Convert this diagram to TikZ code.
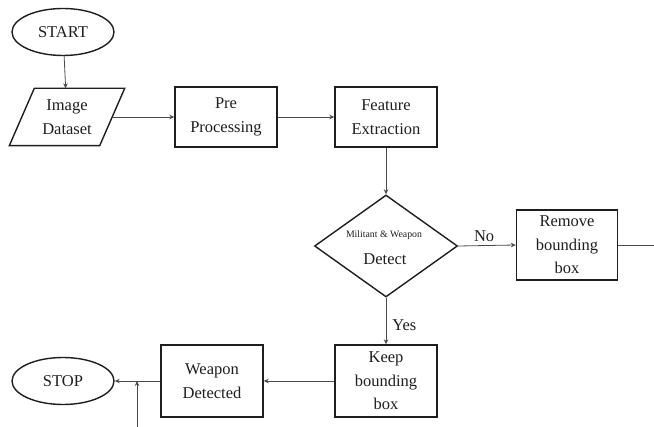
\documentclass[tikz,border=0pt]{standalone}
\usepackage{fontspec}
\setmainfont{Liberation Serif}
\usetikzlibrary{shapes.geometric,arrows.meta,calc}
\definecolor{ink}{HTML}{1E1E1E}
\definecolor{wire}{HTML}{4A4A4A}
\tikzset{
  base/.style={draw=ink, line width=1.4pt, align=center, text=ink,
    font=\fontsize{16.5}{23.5}\selectfont, inner sep=1pt},
  procbox/.style={base, rectangle, minimum width=102pt, minimum height=60pt},
  tallbox/.style={base, rectangle, minimum width=102pt, minimum height=72pt},
  term/.style={base, ellipse, minimum width=102pt, minimum height=47pt},
  decision/.style={base, diamond, minimum width=143pt, minimum height=102pt},
  conn/.style={draw=wire, line width=0.8pt, -{Stealth[length=5pt,width=4.5pt]}},
  plain/.style={draw=wire, line width=0.8pt},
  lbl/.style={text=ink, font=\fontsize{16.5}{20}\selectfont, inner sep=0pt}
}
\begin{document}
\begin{tikzpicture}[x=1pt,y=-1pt]
\useasboundingbox (0,0) rectangle (654,427);
% nodes
\node[term] (start) at (63,32) {START};
\node[rectangle, minimum width=90pt, minimum height=57pt, align=center, text=ink,
      font=\fontsize{16.5}{23.5}\selectfont, inner sep=1pt] (data) at (67,117) {Image\\Dataset};
\draw[draw=ink, line width=1.4pt, line join=miter]
  ($(data.north west)+(12.5pt,0pt)$) -- ($(data.north east)+(12.5pt,0pt)$)
  -- ($(data.south east)+(-12.5pt,0pt)$) -- ($(data.south west)+(-12.5pt,0pt)$) -- cycle;
\node[procbox] (pre) at (226,117) {Pre\\Processing};
\node[procbox] (fe) at (386,117) {Feature\\Extraction};
\node[decision] (dec) at (386,246) {};
\node[text=ink, font=\fontsize{9.8}{11}\selectfont, inner sep=0pt] (dt1) at (384,235) {Militant \& Weapon};
\node[text=ink, font=\fontsize{16.5}{20}\selectfont, inner sep=0pt] (dt2) at (385,259) {Detect};
\node[base, rectangle, minimum width=101pt, minimum height=70pt] (rem) at (567,245) {Remove\\bounding\\box};
\node[tallbox] (keep) at (386,381) {Keep\\bounding\\box};
\node[tallbox] (wd) at (212,381) {Weapon\\Detected};
\node[term] (stop) at (63,381) {STOP};
\coordinate (rr) at (654,245);
\coordinate (j) at (137,381);
\coordinate (jb) at (137,427);
% connectors
\draw[conn] (start) -- (data);
\draw[conn] (data.east) -- (pre.west);
\draw[conn] (pre) -- (fe);
\draw[conn] (fe) -- (dec.north);
\draw[conn] (dec.east) -- node[lbl, above=3pt, pos=0.45] (no) {No} (rem.west);
\draw[plain] (rem.east) -- (rr);
\draw[conn] (dec.south) -- node[lbl, right=6pt, pos=0.6] (yes) {Yes} (keep.north);
\draw[conn] (keep) -- (wd);
\draw[conn] (wd.west) -- (stop.east);
\draw[conn] (jb) -- (j);
\end{tikzpicture}
\end{document}
